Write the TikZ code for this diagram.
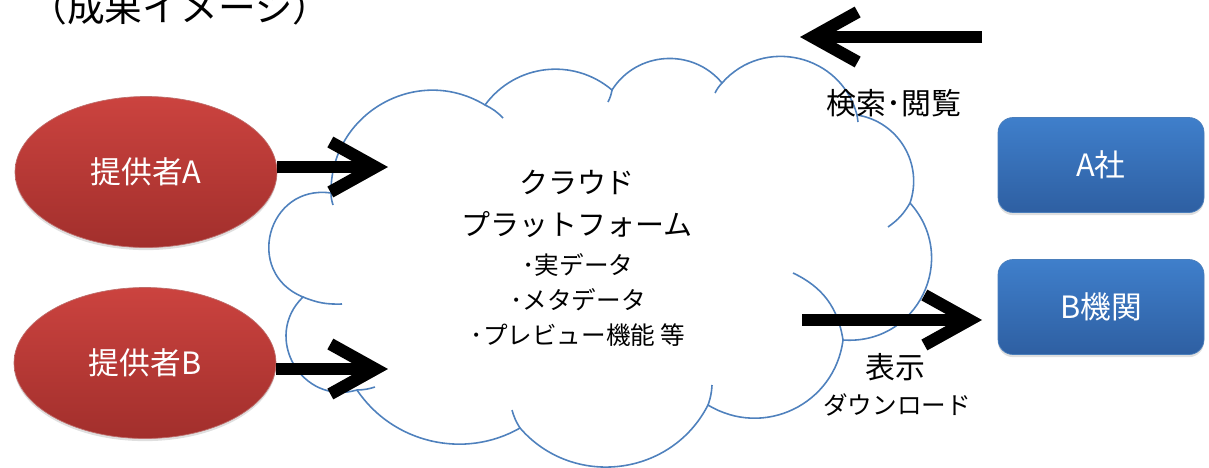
\documentclass[tikz,border=0pt]{standalone}
\usepackage{fontspec}
\setmainfont{Noto Sans CJK JP}
\usetikzlibrary{arrows.meta,shapes.geometric,shadows}

\definecolor{provtop}{HTML}{CB433F}
\definecolor{provbot}{HTML}{A22F2C}
\definecolor{orgtop}{HTML}{3F7FCB}
\definecolor{orgbot}{HTML}{2E5FA2}
\definecolor{orgline}{HTML}{4A7EBB}
\definecolor{cloudline}{HTML}{4F81BD}

\tikzset{
  provider/.style={ellipse, minimum width=5.24cm, minimum height=3.02cm, inner sep=0pt,
    top color=provtop, bottom color=provbot, draw=provbot!70!white, thin, text=white,
    drop shadow={opacity=0.25, shadow xshift=0pt, shadow yshift=-1.5pt},
    font=\fontsize{17.5}{21}\selectfont},
  org/.style={rectangle, rounded corners=0.3cm, minimum width=4.12cm, minimum height=1.9cm,
    top color=orgtop, bottom color=orgbot, draw=orgline, thin, text=white,
    drop shadow={opacity=0.25, shadow xshift=0pt, shadow yshift=-1.5pt},
    font=\fontsize{17.5}{21}\selectfont},
  flow/.style={line width=7pt, -{Straight Barb[length=0.9cm, width=1cm]}},
  flowtext/.style={inner sep=0pt, font=\fontsize{17}{21}\selectfont},
  cloudedge/.style={draw=cloudline, line width=0.9pt},
}

\begin{document}
\begin{tikzpicture}[x=0.02cm, y=-0.02cm]
\useasboundingbox (0,0) rectangle (1209,467);

\node[anchor=base, inner sep=0pt, font=\fontsize{21.5}{24}\selectfont] (title) at (180,21) {（成果イメージ）};

% cloud
\path[cloudedge, fill=white]
  (331,193) coordinate (j1)
  to[bend left=61, looseness=1.15] (485,105) coordinate (j2)
  to[bend left=47, looseness=1.02] (612,90) coordinate (j3)
  to[bend left=54, looseness=1.07] (722,83) coordinate (j4)
  to[bend left=62, looseness=1.16] (857,115) coordinate (j5)
  to[bend left=50, looseness=1.04] (910,203) coordinate (j6)
  to[bend left=68, looseness=1.25] (843,340) coordinate (j7)
  to[bend left=57, looseness=1.11] (708,405) coordinate (j8)
  to[bend left=56, looseness=1.09] (520,428) coordinate (j9)
  to[bend left=43, looseness=0.98] (357,390) coordinate (j10)
  to[bend left=76, looseness=1.37] (303,297) coordinate (j11)
  to[bend left=83, looseness=1.53] (331,193);
\draw[cloudedge]
  (333,205) to[bend left=8] (j1)
  (j2) to[bend left=10] (503,118)
  (j3) to[bend left=8] (608,102)
  (715,93) to[bend left=8] (j4)
  (j5) to[bend left=6] (858,122)
  (j6) to[bend left=12] (888,227)
  (793,273) to[bend left=28] (j7)
  (712,385) to[bend left=8] (j8)
  (j9) to[bend left=8] (512,410)
  (375,387) to[bend left=8] (j10)
  (342,304) to[bend left=12] (j11);

\node[align=center, inner sep=0pt, font=\fontsize{16.5}{24}\selectfont] (cloudname) at (577,204) {クラウド\\プラットフォーム};
\node[align=center, inner sep=0pt, font=\fontsize{14}{20}\selectfont] (cloudlist) at (578,300) {･実データ\\･メタデータ\\･プレビュー機能 等};

% providers and users
\node[provider] (pa) at (146,172) {提供者A};
\node[provider] (pb) at (145,363) {提供者B};
\node[org] (ca) at (1101,165) {A社};
\node[org] (cb) at (1101,307) {B機関};

\coordinate (ain) at (388,167);
\coordinate (bin) at (388,369);
\coordinate (qfrom) at (982,37);
\coordinate (qto) at (800,37);
\coordinate (dfrom) at (802,320);
\coordinate (dto) at (982,320);

\draw[flow] (pa.east |- ain) -- (ain);
\draw[flow] (pb.east |- bin) -- (bin);
\draw[flow] (qfrom) -- (qto);
\draw[flow] (dfrom) -- (dto);

\node[flowtext] (search) at (894,103) {検索･閲覧};
\node[flowtext] (show) at (895,367) {表示};
\node[flowtext, font=\fontsize{14}{18}\selectfont] (dl) at (897,405) {ダウンロード};
\end{tikzpicture}
\end{document}
